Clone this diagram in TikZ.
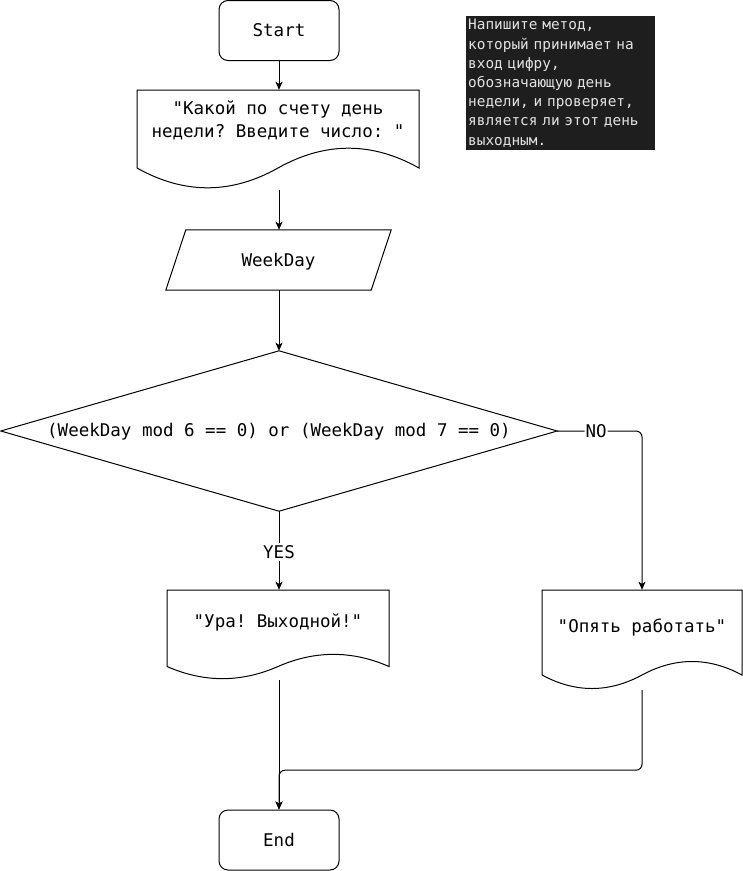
\documentclass[tikz,border=0pt]{standalone}
\usepackage{fontspec}
\setmonofont{DejaVu Sans Mono}
\usetikzlibrary{arrows.meta,calc}
\definecolor{notebg}{HTML}{1E1E1E}
\definecolor{notefg}{HTML}{E2E2E2}
\newcommand{\docshape}[5]{% x0 y0 w h dy
 \draw[shapeline] (#1,#2) -- ({#1+#3},#2) -- ({#1+#3},{#2+#4-#5/2})
   .. controls ({#1+#3*5/6},{#2+#4-1.1*#5}) and ({#1+#3*2/3},{#2+#4-1.1*#5}) .. ({#1+#3/2},{#2+#4-#5/2})
   .. controls ({#1+#3/3},{#2+#4+0.1*#5}) and ({#1+#3/6},{#2+#4+0.1*#5}) .. (#1,{#2+#4-#5/2}) -- cycle;}
\begin{document}
\begin{tikzpicture}[x=1pt,y=-1pt,
  shapeline/.style={line width=1pt, draw=black},
  txt/.style={font=\ttfamily\fontsize{17.5}{23}\selectfont, text=black, align=center, inner sep=0pt},
  term/.style={shapeline, rounded corners=9pt, minimum width=120pt, minimum height=60pt, inner sep=0pt, txt},
  bbox/.style={draw=none, inner sep=0pt},
  arr/.style={line width=1pt, draw=black, -{Stealth[length=8pt,width=7pt,inset=2pt]}},
  conn/.style={line width=1pt, draw=black},
  lbl/.style={txt, fill=white, inner xsep=1pt, inner ysep=2pt},
  note/.style={fill=notebg, text=notefg, font=\ttfamily\fontsize{14.4}{19.2}\selectfont, align=left, anchor=north west, inner xsep=2pt, inner ysep=0pt, text width=185pt, minimum height=134pt}
]
\useasboundingbox (0,0) rectangle (743,871);
\fill[white] (0,0) rectangle (743,871);

% Start
\node[term] (start) at (279,30.5) {Start};

% prompt document
\docshape{137}{90}{282}{100}{44}
\node[bbox, minimum width=282pt, minimum height=100pt] (q) at (278,140) {};
\node[txt] (qt) at (278,120.5) {"Какой по счету день\\недели? Введите число: "};

% input parallelogram
\node[bbox, minimum width=225pt, minimum height=60pt] (w) at (278.5,260) {};
\draw[shapeline] ([xshift=20pt]w.north west) -- (w.north east) -- ([xshift=-20pt]w.south east) -- (w.south west) -- cycle;
\node[txt] (wt) at (278.5,262) {WeekDay};

% decision diamond
\node[bbox, minimum width=556pt, minimum height=160pt] (d) at (279,431) {};
\draw[shapeline] (d.north) -- (d.east) -- (d.south) -- (d.west) -- cycle;
\node[txt] (dt) at (279,432) {(WeekDay mod 6 == 0) or (WeekDay mod 7 == 0)};

% yes document
\docshape{167}{590}{222}{90}{27}
\node[bbox, minimum width=222pt, minimum height=90pt] (yes) at (278,635) {};
\node[txt] (yest) at (278,622.5) {"Ура! Выходной!"};

% no document
\docshape{542}{590}{200}{100}{30}
\node[bbox, minimum width=200pt, minimum height=100pt] (no) at (642,640) {};
\node[txt] (not) at (642,627.5) {"Опять работать"};

% End
\node[term] (end) at (279,840) {End};

% note
\node[note] (note) at (466,16) {Напишите метод,\\который принимает на\\вход цифру,\\обозначающую день\\недели, и проверяет,\\является ли этот день\\выходным.};

% connectors
\draw[arr] (start.south) -- (start.south |- q.north);
\draw[arr] (start.south |- q.south) -- (start.south |- w.north);
\draw[arr] (start.south |- w.south) -- (d.north);
\draw[arr] (d.south) -- (d.south |- yes.north) node[lbl, pos=0.5, yshift=-1.5pt] {YES};
\draw[arr, rounded corners=6pt] (d.east) -| (no.north) node[lbl, pos=0.23] {NO};
\draw[arr] (end.north |- yes.south) -- (end.north);
\draw[arr, rounded corners=6pt] (no.south) -- ++(0,80) -| (end.north);
\end{tikzpicture}
\end{document}
